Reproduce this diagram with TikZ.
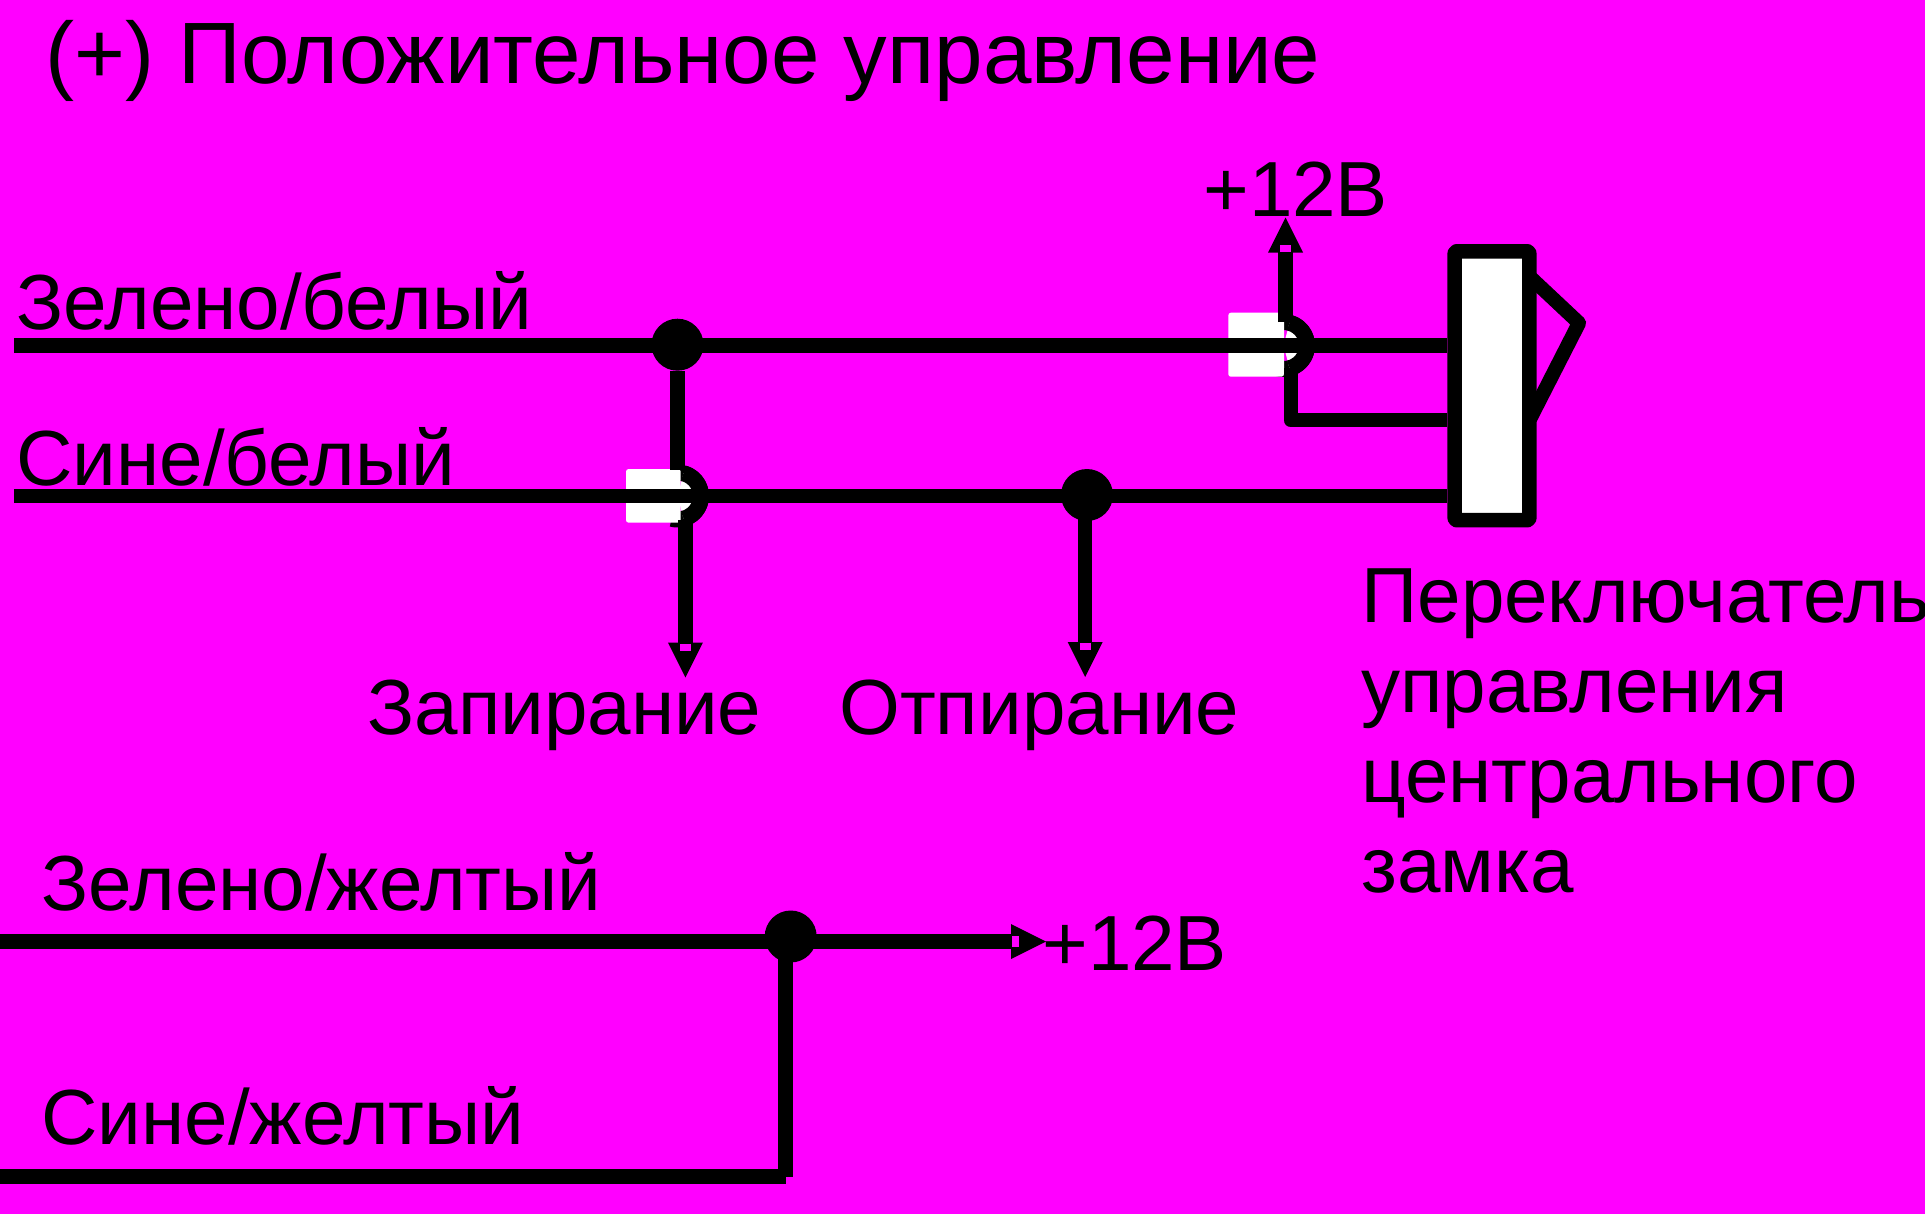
\documentclass[tikz,border=0pt]{standalone}
\usepackage{fontspec}
\setmainfont{Liberation Sans}
\definecolor{pinkbg}{rgb}{1,0,1}
\tikzset{
  wire/.style={line width=0.285cm,color=black},
  feed/.style={wire,shorten >=0.7cm},
  hopline/.style={line width=0.32cm,color=black},
  dot/.style={circle,fill=black,inner sep=0pt,minimum size=1.04cm},
  label/.style={anchor=base west,inner sep=0pt,font=\fontsize{44.5}{51.2}\selectfont},
  header/.style={anchor=base west,inner sep=0pt,font=\fontsize{49.6}{60}\selectfont},
  switchbox/.style={draw=black,fill=white,line width=0.29cm,rounded corners=1pt,inner sep=0pt,minimum width=1.492cm,minimum height=5.38cm}
}
\begin{document}
\begin{tikzpicture}[line join=round,x=0.02cm,y=-0.02cm]
	\fill[pinkbg] (0,0) rectangle (1925,1214);
	\useasboundingbox (0,0) rectangle (1925,1214);
	% coordinates
	\coordinate (greenw) at (14,345.5);
	\coordinate (bluew) at (14,496);
	\coordinate (jumpa) at (677.5,496);
	\coordinate (jumpb) at (1283.5,345.5);
	\coordinate (linka) at (677.5,470);
	\coordinate (lockout) at (685.4,520);
	\coordinate (locktip) at (685.4,677.5);
	\coordinate (opentip) at (1085.2,677);
	\coordinate (plusout) at (1285.5,322);
	\coordinate (plustip) at (1285.5,217.5);
	\coordinate (kneein) at (1290.7,368);
	\coordinate (knee) at (1290.7,420.3);
	\coordinate (pina) at (1530,277);
	\coordinate (pinb) at (1579,323);
	\coordinate (pinc) at (1530,419);
	\coordinate (greeny) at (0,941.5);
	\coordinate (bluey) at (0,1176.5);
	\coordinate (corner) at (785.5,1176.5);
	\coordinate (plusrtip) at (1046,941.5);
	% white patches and jumps
	\foreach \j/\xa/\ya/\xb/\yb in {jumpa/626/469/680.7/522.7,jumpb/1228.3/312.7/1284/376.7}{
		\draw[hopline] ([shift={(105:0.47cm)}]\j) arc[start angle=105,end angle=-105,radius=0.47cm];
		\fill[white,rounded corners=1.5pt] (\xa,\ya) rectangle (\xb,\yb);
		\fill[white] (\j) -- ([shift={(75:0.47cm)}]\j) arc[start angle=75,end angle=-75,radius=0.47cm] -- cycle;
		\draw[hopline] ([shift={(75:0.47cm)}]\j) arc[start angle=75,end angle=-75,radius=0.47cm];
	}
	% pin
	\draw[wire] (pina) -- (pinb) -- (pinc);
	\node[switchbox] (switch) at (1492,385.75) {};
	% dots
	\node[dot] (dota) at (677.5,344.7) {};
	\node[dot] (dotb) at (1087,495) {};
	\node[dot] (dotc) at (790.7,936.5) {};
	% wires
	\draw[wire] (greenw) -- (greenw -| switch.west);
	\draw[wire] (bluew) -- (bluew -| switch.west);
	\draw[wire] (dota) -- (linka);
	\draw[feed] (lockout) -- (locktip);
	\draw[feed] (dotb.center -| opentip) -- (opentip);
	\draw[feed] (plusout) -- (plustip);
	\draw[wire] (kneein) -- (knee) -- (knee -| switch.west);
	\draw[wire] (greeny) -- (dotc.center |- greeny);
	\draw[feed] (dotc.center |- plusrtip) -- (plusrtip);
	\draw[wire,line width=0.3cm] (dotc.center -| corner) -- (corner);
	\draw[wire,line width=0.3cm] (bluey) -- (corner);
	% arrow heads
	\foreach \t/\a in {locktip/180,opentip/180,plustip/0,plusrtip/-90}{
		\begin{scope}[shift={(\t)},rotate=\a]
			\fill[black] (0,0) -- (-17.5,35) -- (17.5,35) -- cycle;
			\fill[pinkbg] (-5.7,27) rectangle (5.7,34);
		\end{scope}
	}
	% texts
	\node[header] (title) at (45,83.5) {(+) Положительное управление};
	\node[label] (greenwlabel) at (16,329) {Зелено/белый};
	\node[label] (bluewlabel) at (16,485) {Сине/белый};
	\node[label] (locklabel) at (367,734) {Запирание};
	\node[label] (openlabel) at (839,734) {Отпирание};
	\node[label] (greenylabel) at (41,910) {Зелено/желтый};
	\node[label] (blueylabel) at (41,1144) {Сине/желтый};
	\node[label] (plusa) at (1203,216) {+12В};
	\node[label] (plusb) at (1042,970) {+12В};
	\node[label,align=left,anchor=north west] (switchlabel) at (1361,568.5) {Переключатель\\управления\\центрального\\замка};
\end{tikzpicture}
\end{document}
